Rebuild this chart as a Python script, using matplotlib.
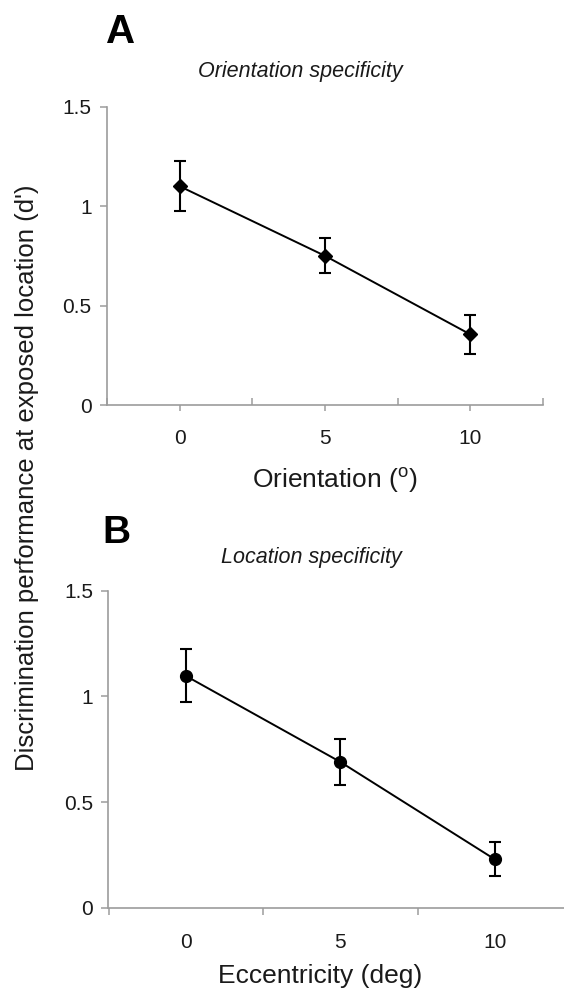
import numpy as np
import matplotlib
matplotlib.use("Agg")
import matplotlib.pyplot as plt
from matplotlib.ticker import FixedLocator

plt.rcParams["font.family"] = ["Liberation Sans", "DejaVu Sans"]
plt.rcParams["mathtext.fontset"] = "custom"
plt.rcParams["mathtext.rm"] = "Liberation Sans"

# values (d' with error bars)
orient_labels = ["0", "5", "10"]
orient_dprime = [1.10, 0.75, 0.355]
orient_err = [0.125, 0.088, 0.097]

ecc_labels = ["0", "5", "10"]
ecc_dprime = [1.097, 0.69, 0.229]
ecc_err = [0.125, 0.11, 0.081]

y_ticks = [0, 0.5, 1, 1.5]
y_ticklabels = ["0", "0.5", "1", "1.5"]

W, H = 564, 994
txt = "#1a1a1a"
spine_c = "#9c9c9c"

fig = plt.figure(figsize=(W / 100, H / 100), dpi=100)


def px(x0, x1, ytop, ybot):
    # pixel box -> figure fraction rect
    return [x0 / W, 1 - ybot / H, (x1 - x0) / W, (ybot - ytop) / H]


def style_axes(ax, n):
    ax.set_xlim(-0.5, n - 0.5)
    ax.set_ylim(0, 1.5)
    for s in ["top", "right"]:
        ax.spines[s].set_visible(False)
    for s in ["left", "bottom"]:
        ax.spines[s].set_color(spine_c)
        ax.spines[s].set_linewidth(1.2)
    ax.set_yticks(y_ticks)
    ax.set_yticklabels(y_ticklabels)
    ax.tick_params(axis="y", direction="out", length=5, width=1.1,
                   color=spine_c, labelsize=15, labelcolor=txt, pad=6)


# Panel A - orientation
axA = fig.add_axes(px(107, 543, 106.7, 405))
xa = np.arange(len(orient_labels))
style_axes(axA, len(orient_labels))
axA.errorbar(xa, orient_dprime, yerr=orient_err, color="black", lw=1.4,
             marker="D", ms=7, elinewidth=1.5, capsize=4.5, capthick=1.5)
axA.set_xticks(xa)
axA.set_xticklabels(orient_labels)
axA.xaxis.set_minor_locator(FixedLocator(np.arange(-0.5, len(orient_labels), 1.0)))
axA.tick_params(axis="x", which="major", direction="out", length=4.5, width=1.1,
                color=spine_c, labelsize=15, labelcolor=txt, pad=13)
axA.tick_params(axis="x", which="minor", direction="in", length=5, width=1.1,
                color=spine_c)
for ln in axA.get_lines():
    ln.set_clip_on(False)

# Panel B - location
axB = fig.add_axes(px(108.5, 572, 590.7, 907.7))
xb = np.arange(len(ecc_labels))
style_axes(axB, len(ecc_labels))
axB.errorbar(xb, ecc_dprime, yerr=ecc_err, color="black", lw=1.4,
             marker="o", ms=8.5, elinewidth=1.5, capsize=4.5, capthick=1.5)
axB.set_xticks(xb)
axB.set_xticklabels(ecc_labels)
axB.xaxis.set_minor_locator(FixedLocator(np.arange(-0.5, len(ecc_labels), 1.0)))
axB.tick_params(axis="x", which="major", length=0, labelsize=15,
                labelcolor=txt, pad=18)
axB.tick_params(axis="x", which="minor", direction="out", length=5, width=1.1,
                color=spine_c)

# panel letters, titles, axis labels
fig.text(106 / W, 1 - 43 / H, "A", fontsize=29, fontweight="bold",
         color="black", ha="left", va="baseline")
fig.text(102 / W, 1 - 543 / H, "B", fontsize=28, fontweight="bold",
         color="black", ha="left", va="baseline")
fig.text(300 / W, 1 - 77 / H, "Orientation specificity", fontsize=15.5,
         style="italic", color=txt, ha="center", va="baseline")
fig.text(311 / W, 1 - 563 / H, "Location specificity", fontsize=15.5,
         style="italic", color=txt, ha="center", va="baseline")
fig.text(335 / W, 1 - 488 / H, r"Orientation ($^\mathregular{o}$)",
         fontsize=19, color=txt, ha="center", va="baseline")
fig.text(320 / W, 1 - 983 / H, "Eccentricity (deg)", fontsize=19,
         color=txt, ha="center", va="baseline")
fig.text(27 / W, 1 - 478 / H, "Discrimination performance at exposed location (d')",
         fontsize=18.5, color=txt, rotation=90, ha="center", va="center")

fig.savefig("out.png", dpi=100)
